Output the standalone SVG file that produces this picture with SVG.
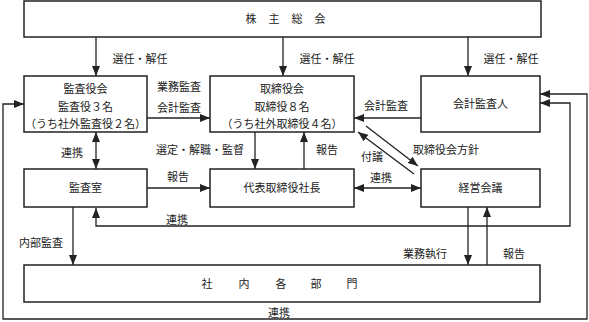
<svg xmlns="http://www.w3.org/2000/svg" width="589" height="322" viewBox="0 0 589 322">
<style>
.box{fill:#fff;stroke:#222;stroke-width:1.5}
.ln{fill:none;stroke:#222;stroke-width:1.3}
text{font-family:"Noto Sans CJK JP","Noto Sans CJK SC",sans-serif;font-size:11px;fill:#222}
.c{text-anchor:middle}
</style>
<defs>
<marker id="ah" markerUnits="userSpaceOnUse" markerWidth="10" markerHeight="10" viewBox="0 0 10 10" refX="10" refY="5" orient="auto-start-reverse">
<path d="M0,1 L10,5 L0,9 Z" fill="#222"/>
</marker>
</defs>
<rect width="589" height="322" fill="#fff"/>
<g id="connectors">
<line class="ln" x1="96" y1="37" x2="96" y2="76" marker-end="url(#ah)"/>
<line class="ln" x1="283" y1="37" x2="283" y2="76" marker-end="url(#ah)"/>
<line class="ln" x1="468" y1="37" x2="468" y2="76" marker-end="url(#ah)"/>
<line class="ln" x1="147" y1="118" x2="210" y2="118" marker-end="url(#ah)"/>
<line class="ln" x1="421" y1="118" x2="354" y2="118" marker-end="url(#ah)"/>
<line class="ln" x1="96" y1="132" x2="96" y2="169" marker-start="url(#ah)" marker-end="url(#ah)"/>
<line class="ln" x1="255" y1="132" x2="255" y2="169" marker-end="url(#ah)"/>
<line class="ln" x1="304" y1="169" x2="304" y2="132" marker-end="url(#ah)"/>
<line class="ln" x1="147" y1="188" x2="210" y2="188" marker-end="url(#ah)"/>
<line class="ln" x1="354" y1="188" x2="421" y2="188" marker-start="url(#ah)" marker-end="url(#ah)"/>
<line class="ln" x1="366" y1="126" x2="418" y2="166" marker-end="url(#ah)"/>
<line class="ln" x1="414" y1="174" x2="358" y2="132" marker-end="url(#ah)"/>
<line class="ln" x1="73" y1="207" x2="73" y2="265" marker-end="url(#ah)"/>
<line class="ln" x1="468" y1="207" x2="468" y2="265" marker-end="url(#ah)"/>
<line class="ln" x1="487" y1="265" x2="487" y2="207" marker-end="url(#ah)"/>
<path class="ln" d="M96,208 V226 H570 V103 H540" marker-start="url(#ah)" marker-end="url(#ah)"/>
<path class="ln" d="M540,94 H587 V319 H3 V104 H24" marker-start="url(#ah)" marker-end="url(#ah)"/>
<text x="140" y="63" class="c">選任・解任</text>
<text x="327" y="63" class="c">選任・解任</text>
<text x="511" y="63" class="c">選任・解任</text>
<text x="179" y="91" class="c">業務監査</text>
<text x="179" y="112" class="c">会計監査</text>
<text x="386" y="110" class="c">会計監査</text>
<text x="72" y="157" class="c">連携</text>
<text x="200" y="154" class="c">選定・解職・監督</text>
<text x="327" y="154" class="c">報告</text>
<text x="372" y="161" class="c">付議</text>
<text x="446" y="154" class="c">取締役会方針</text>
<text x="178" y="181" class="c">報告</text>
<text x="381" y="182" class="c">連携</text>
<text x="177" y="224" class="c">連携</text>
<text x="41" y="247" class="c">内部監査</text>
<text x="425" y="258" class="c">業務執行</text>
<text x="514" y="258" class="c">報告</text>
<text x="279" y="317" class="c">連携</text>
</g>
<g id="shareholders">
<rect class="box" x="24" y="1" width="517" height="36"/>
<text x="251" y="23" class="c">株</text>
<text x="274" y="23" class="c">主</text>
<text x="297" y="23" class="c">総</text>
<text x="320" y="23" class="c">会</text>
</g>
<g id="audit-board">
<rect class="box" x="24" y="76" width="123" height="56"/>
<text x="85.5" y="93" class="c">監査役会</text>
<text x="85.5" y="111" class="c">監査役３名</text>
<text x="85.5" y="128" class="c">（うち社外監査役２名）</text>
</g>
<g id="board">
<rect class="box" x="210" y="76" width="144" height="56"/>
<text x="282" y="93" class="c">取締役会</text>
<text x="282" y="111" class="c">取締役８名</text>
<text x="282" y="128" class="c">（うち社外取締役４名）</text>
</g>
<g id="accounting-auditor">
<rect class="box" x="421" y="76" width="119" height="56"/>
<text x="480.5" y="108" class="c">会計監査人</text>
</g>
<g id="audit-office">
<rect class="box" x="24" y="169" width="123" height="38"/>
<text x="85.5" y="192" class="c">監査室</text>
</g>
<g id="president">
<rect class="box" x="210" y="169" width="144" height="38"/>
<text x="282" y="192" class="c">代表取締役社長</text>
</g>
<g id="management-council">
<rect class="box" x="421" y="169" width="119" height="38"/>
<text x="480.5" y="192" class="c">経営会議</text>
</g>
<g id="departments">
<rect class="box" x="24" y="265" width="516" height="37"/>
<text x="207" y="288" class="c">社</text>
<text x="244" y="288" class="c">内</text>
<text x="281" y="288" class="c">各</text>
<text x="316" y="288" class="c">部</text>
<text x="352" y="288" class="c">門</text>
</g>
</svg>
